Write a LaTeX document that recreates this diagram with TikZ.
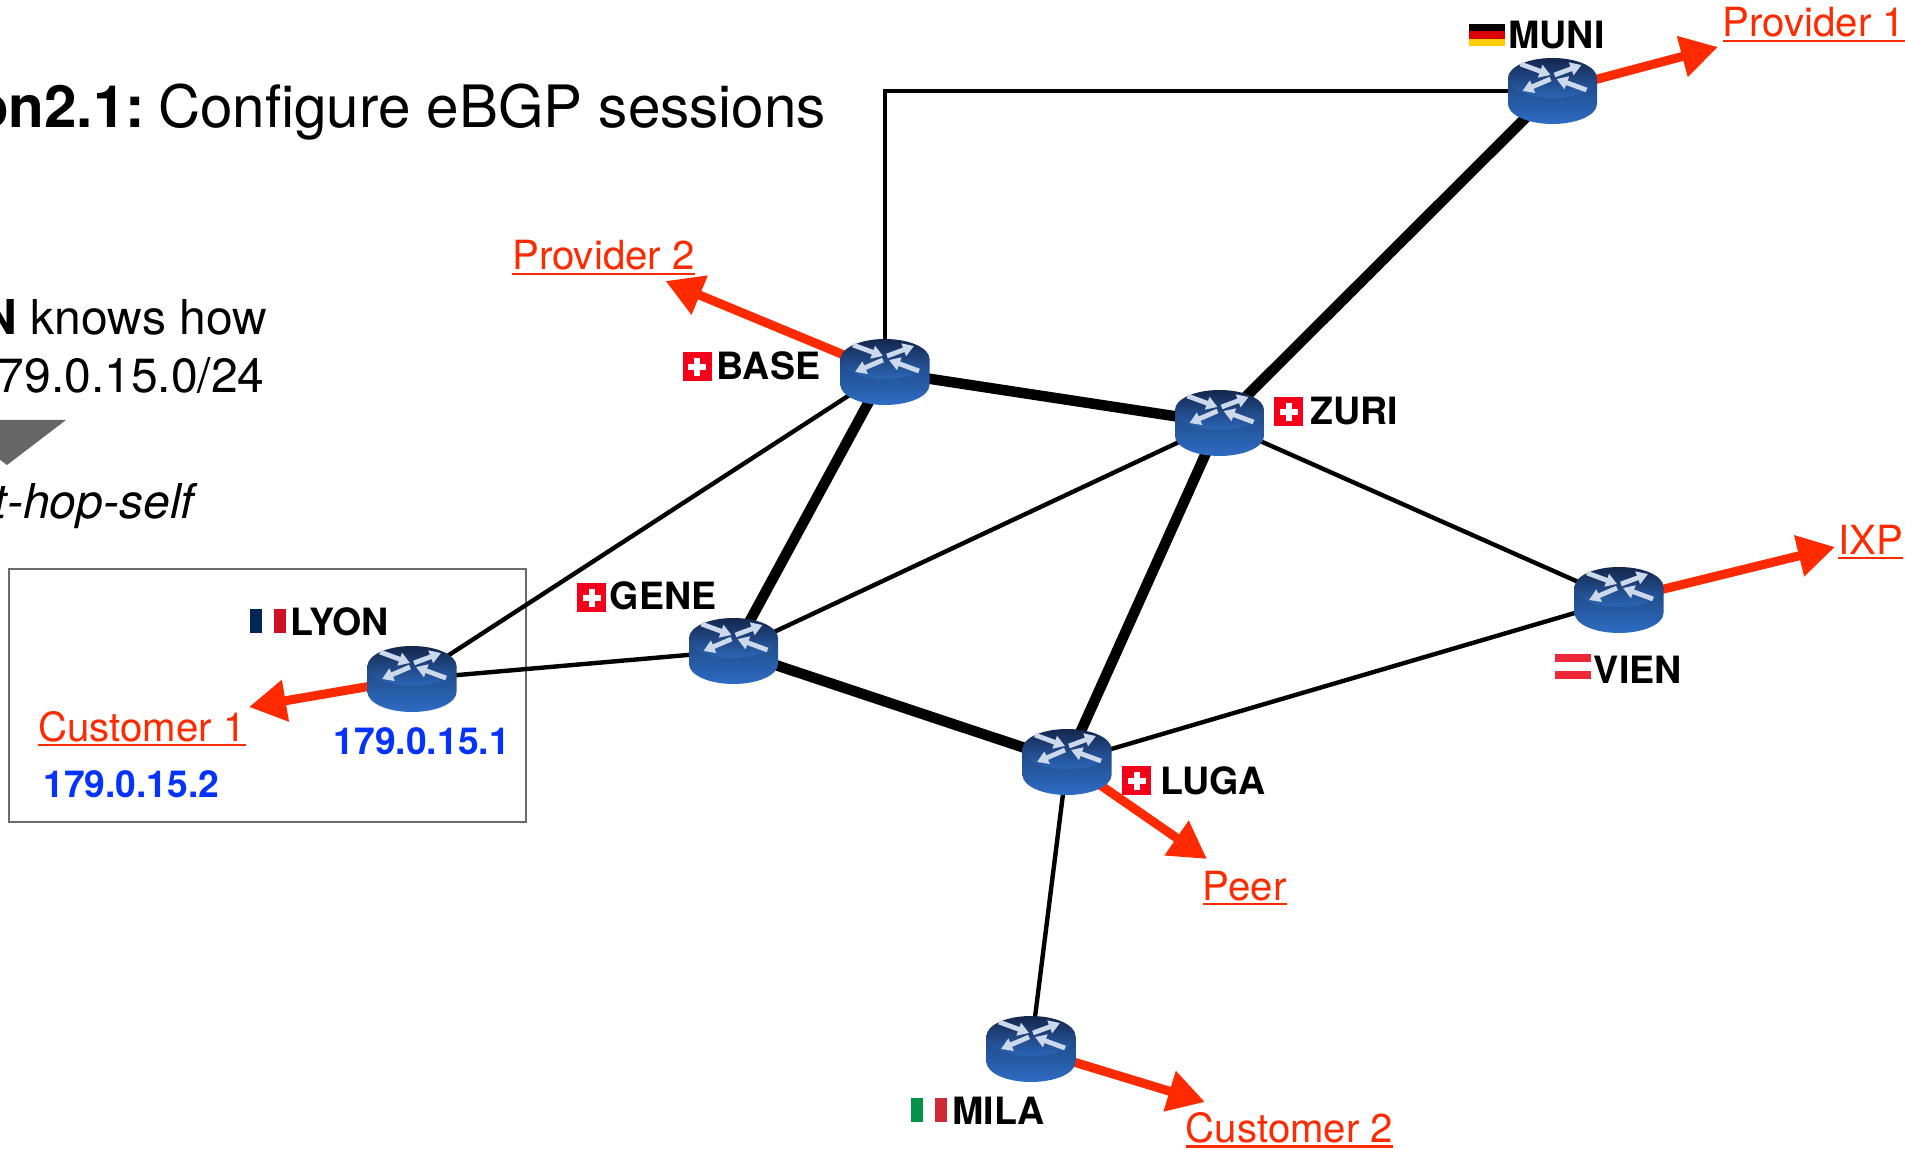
\documentclass[tikz,border=0pt]{standalone}
\usepackage{fontspec}
\usetikzlibrary{arrows.meta}
\setmainfont{TeX Gyre Heros}
\newcommand{\linktext}[1]{\setbox0\hbox{#1}\rlap{\rule[-2.7pt]{\wd0}{1.25pt}}\box0}
\definecolor{linkred}{HTML}{FF2A00}
\definecolor{addrblue}{HTML}{0433FF}
\definecolor{chred}{HTML}{F5001B}
\definecolor{frblue}{HTML}{002654}
\definecolor{frred}{HTML}{CE1126}
\definecolor{itgreen}{HTML}{009246}
\definecolor{itred}{HTML}{CE2B37}
\definecolor{dered}{HTML}{DD0000}
\definecolor{degold}{HTML}{FFCE00}
\definecolor{atred}{HTML}{ED2939}
\definecolor{sidetop}{HTML}{1E4882}
\definecolor{sidebot}{HTML}{2E6CC4}
\definecolor{facetop}{HTML}{14264C}
\definecolor{facebot}{HTML}{2C66B8}
\definecolor{iconarrow}{HTML}{CCD8EC}
\tikzset{
  router/.style={circle,inner sep=0pt,minimum size=30pt},
  thinlink/.style={line width=2.2pt,black},
  thicklink/.style={line width=5.25pt,black},
  extlink/.style={line width=4.5pt,linkred,-{Triangle[length=18.5pt,width=20pt]}},
  namelabel/.style={anchor=base west,inner sep=0pt,font=\fontsize{18.8pt}{18.8pt}\selectfont\bfseries},
  addrlabel/.style={anchor=base west,inner sep=0pt,text=addrblue,font=\fontsize{18.6pt}{18.6pt}\selectfont\bfseries},
  extlabel/.style={anchor=base west,inner sep=0pt,text=linkred,font=\fontsize{20.1pt}{20.1pt}\selectfont},
  bodytext/.style={anchor=base east,inner sep=0pt,font=\fontsize{24pt}{24pt}\selectfont},
  flagch/.pic={
    \fill [chred] (-14.5,-14.5) rectangle (14.5,14.5);
    \fill [white] (-3,-9) rectangle (3,9);
    \fill [white] (-9,-3) rectangle (9,3);
  },
  flagfr/.pic={
    \fill [frblue] (-18,-12) rectangle (-6,12);
    \fill [frred] (6,-12) rectangle (18,12);
  },
  flagit/.pic={
    \fill [itgreen] (-18,-12) rectangle (-6,12);
    \fill [itred] (6,-12) rectangle (18,12);
  },
  flagde/.pic={
    \fill [black] (-18,-11) rectangle (18,-3.7);
    \fill [dered] (-18,-3.7) rectangle (18,3.7);
    \fill [degold] (-18,3.7) rectangle (18,11);
  },
  flagat/.pic={
    \fill [atred] (-18,-12.5) rectangle (18,-4.5);
    \fill [atred] (-18,4.5) rectangle (18,12.5);
  },
  routericon/.pic={
    % side
    \shade [top color=sidetop,bottom color=sidebot]
      (-44.5,-13) -- (-44.5,13) arc (180:360:44.5 and -20) -- (44.5,-13) -- cycle;
    % top
    \shade [top color=facetop,bottom color=facebot] (0,-13) ellipse (44.5 and 20);
    % arrows
    \foreach \ax/\ay/\bx/\by in {-32/-27/-2/-16,2/-16/29/-26,-2/-12/-30/0,34/-1/4/-12}
      \draw [line width=2.4pt,iconarrow,-{Triangle[length=5.5pt,width=6.5pt]}] (\ax,\ay) -- (\bx,\by);
  },
}
\begin{document}
\begin{tikzpicture}[x=0.5pt,y=-0.5pt]
  \useasboundingbox (0,0) rectangle (1905,1149);
  \clip (0,0) rectangle (1905,1149);
  % left text
  \node [bodytext,font=\fontsize{29.2pt}{29.2pt}\selectfont] (title) at (826.5,128) {\textbf{on2.1:}\hspace{6.5pt}Configure eBGP sessions};
  \node [bodytext] (knows) at (267.5,335) {\textbf{N} knows how};
  \node [bodytext] (prefix) at (265,393) {79.0.15.0/24};
  \fill [black!60] (-52,420) -- (66,420) -- (7,465) -- cycle;
  \node [bodytext] (hopself) at (198.5,519) {\textit{t-hop-self}};
  % customer box
  \draw [line width=1.1pt,black!58] (9,569) rectangle (526,822);
  % routers
  \node [router] (muni) at (1552.5,91) {};
  \node [router] (base) at (885,372) {};
  \node [router] (zuri) at (1219.5,423) {};
  \node [router] (lyon) at (412,679) {};
  \node [router] (gene) at (733.5,651) {};
  \node [router] (luga) at (1067,762) {};
  \node [router] (vien) at (1619,600) {};
  \node [router] (mila) at (1031,1049) {};
  % links
  \draw [thinlink] (base) |- (muni);
  \draw [thicklink] (muni) -- (zuri);
  \draw [thicklink] (base) -- (zuri);
  \draw [thicklink] (base) -- (gene);
  \draw [thicklink] (zuri) -- (luga);
  \draw [thicklink] (gene) -- (luga);
  \draw [thinlink] (base) -- (lyon);
  \draw [thinlink] (lyon) -- (gene);
  \draw [thinlink] (gene) -- (zuri);
  \draw [thinlink] (zuri) -- (vien);
  \draw [thinlink] (vien) -- (luga);
  \draw [thinlink] (luga) -- (mila);
  % external sessions
  \coordinate (tipprov1) at (1718,47);
  \coordinate (tipprov2) at (665.5,281);
  \coordinate (tipcust1) at (249,707);
  \coordinate (tippeer) at (1207,859);
  \coordinate (tipixp) at (1835,547);
  \coordinate (tipcust2) at (1205,1102);
  \draw [extlink] (muni) -- (tipprov1);
  \draw [extlink] (base) -- (tipprov2);
  \draw [extlink] (lyon) -- (tipcust1);
  \draw [extlink] (luga) -- (tippeer);
  \draw [extlink] (vien) -- (tipixp);
  \draw [extlink] (mila) -- (tipcust2);
  \foreach \rname in {muni,base,zuri,lyon,gene,luga,vien,mila}
    \pic at (\rname) {routericon};
  % router names and flags
  \pic at (1487,35) {flagde};
  \node [namelabel] (namemuni) at (1508,49) {MUNI};
  \pic at (697,367) {flagch};
  \node [namelabel] (namebase) at (716.5,380) {BASE};
  \pic at (1288.5,412) {flagch};
  \node [namelabel] (namezuri) at (1310,425) {ZURI};
  \pic at (591.5,597.5) {flagch};
  \node [namelabel] (namegene) at (609.5,610) {GENE};
  \pic at (268,621) {flagfr};
  \node [namelabel] (namelyon) at (290,635) {LYON};
  \pic at (1136.5,780.5) {flagch};
  \node [namelabel] (nameluga) at (1160,794) {LUGA};
  \pic at (1573,666.5) {flagat};
  \node [namelabel] (namevien) at (1593.5,683) {VIEN};
  \pic at (929,1110) {flagit};
  \node [namelabel] (namemila) at (952,1124) {MILA};
  % external names
  \node [extlabel] (prov1) at (1722.5,37) {\linktext{Provider 1}};
  \node [extlabel] (prov2) at (512,270) {\linktext{Provider 2}};
  \node [extlabel] (cust1) at (38,741) {\linktext{Customer 1}};
  \node [extlabel] (peer) at (1202.5,900) {\linktext{Peer}};
  \node [extlabel] (ixp) at (1838,554) {\linktext{IXP}};
  \node [extlabel] (cust2) at (1185.5,1142.5) {\linktext{Customer 2}};
  % addresses
  \node [addrlabel] (addrlyon) at (333.5,754) {179.0.15.1};
  \node [addrlabel] (addrcust) at (43,797) {179.0.15.2};
\end{tikzpicture}
\end{document}
